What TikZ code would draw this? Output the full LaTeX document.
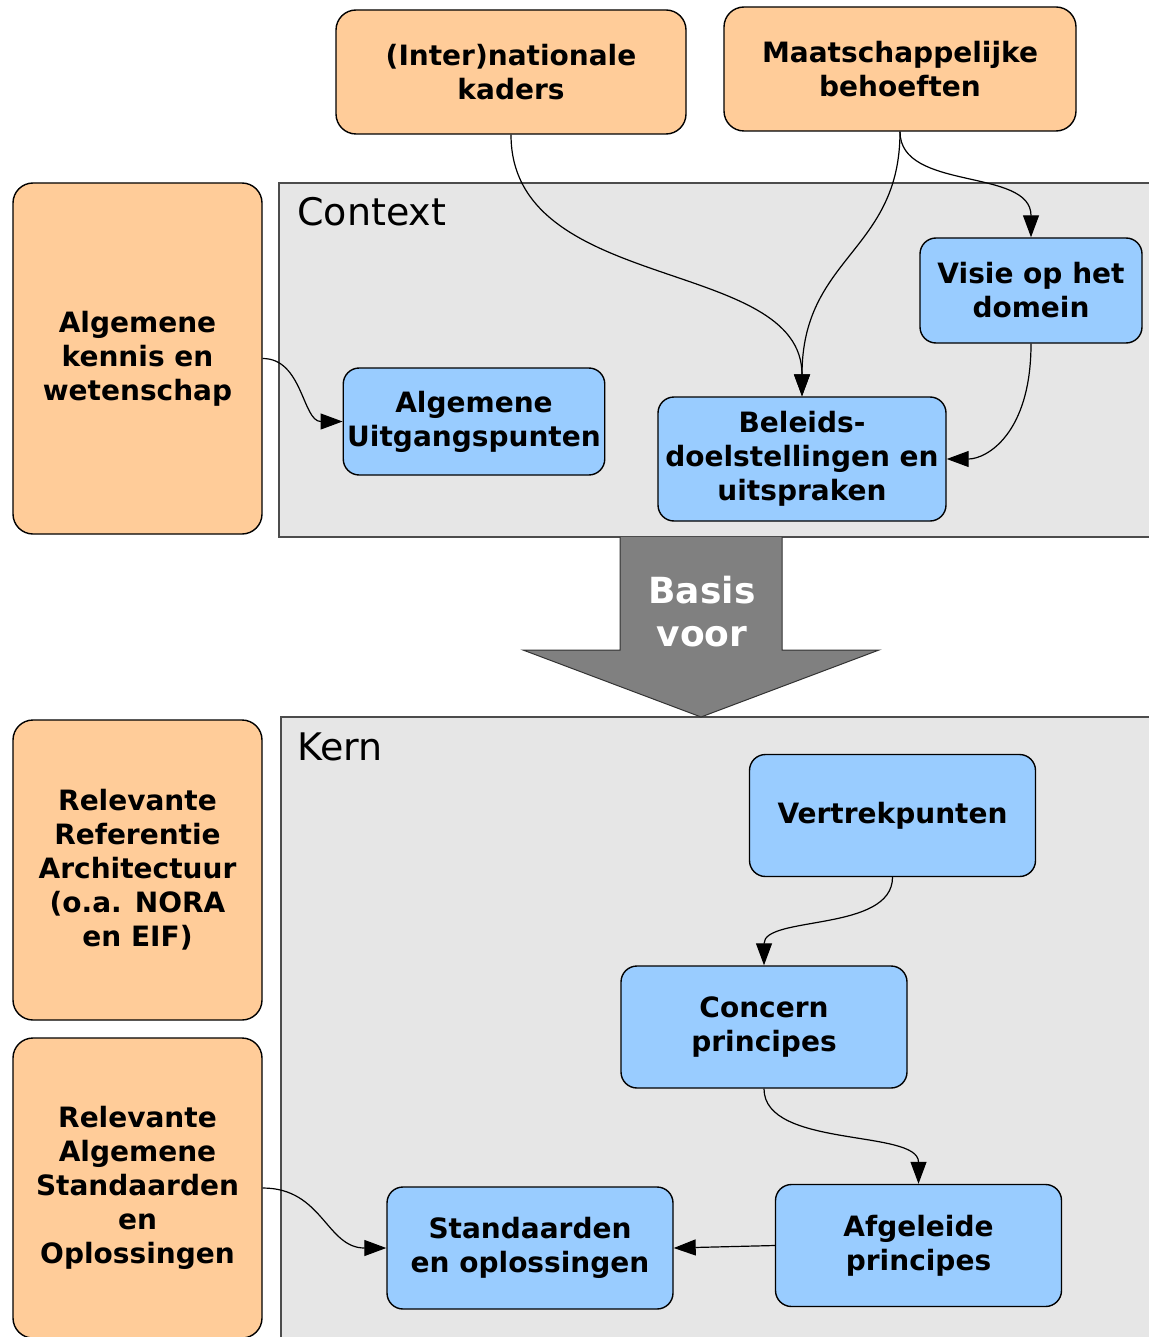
\documentclass[tikz,border=0pt]{standalone}
\usepackage{fontspec}
\setmainfont{DejaVu Sans}
\usetikzlibrary{arrows.meta}

\definecolor{peach}{HTML}{FFCC99}
\definecolor{skyblue}{HTML}{99CCFF}
\definecolor{panelgray}{HTML}{E6E6E6}
\definecolor{arrowgray}{HTML}{808080}

\begin{document}
\begin{tikzpicture}[
	x=0.5pt, y=-0.5pt,
	source/.style={
		draw, line width=0.7pt, rectangle, rounded corners=10pt, fill=peach,
		font=\bfseries\fontsize{14}{17}\selectfont, align=center, inner sep=2pt
	},
	block/.style={
		draw, line width=0.7pt, rectangle, rounded corners=8pt, fill=skyblue,
		font=\bfseries\fontsize{14}{17}\selectfont, align=center, inner sep=2pt,
		minimum width=143pt, minimum height=61pt
	},
	panel/.style={draw=black!70, line width=0.6pt, fill=panelgray},
	title/.style={font=\fontsize{19}{22}\selectfont, anchor=west, inner sep=0pt},
	arr/.style={-{Triangle[length=11pt, width=8pt]}, line width=0.6pt},
	]
	
	\useasboundingbox (0,0) rectangle (1149,1337);
	
	% the two areas
	\draw[panel] (279,183) rectangle (1175,537);
	\draw[panel] (281,717) rectangle (1175,1360);
	\node[title] (ctxtitle)  at (297,212) {Context};
	\node[title] (kerntitle) at (297,747) {Kern};
	
	\filldraw[fill=arrowgray, draw=black!80, line width=0.5pt]
	(620,537) -- (620,650) -- (523,650) -- (701,717) -- (879,650) -- (782,650) -- (782,537);
	\node[font=\bfseries\fontsize{18}{21.5}\selectfont, text=white, align=center] (basis) at (702,612) {Basis\\voor};
	
	\node[source, minimum width=175pt, minimum height=62pt]     (kaders)    at (511,72)      {(Inter)nationale\\kaders};
	\node[source, minimum width=176pt, minimum height=62pt]     (behoeften) at (900,69)      {Maatschappelijke\\behoeften};
	\node[source, minimum width=124.5pt, minimum height=175.5pt] (kennis)  at (137.5,358.5) {Algemene\\kennis en\\wetenschap};
	\node[source, minimum width=124.5pt, minimum height=150pt] (refarch)   at (137.5,870)   {Relevante\\Referentie\\Architectuur\\(o.a. NORA\\en EIF)};
	\node[source, minimum width=124.5pt, minimum height=150pt] (algstd)    at (137.5,1188)  {Relevante\\Algemene\\Standaarden\\en\\Oplossingen};
	
	\node[block, minimum width=128pt, minimum height=53.5pt] (uitgang) at (474,421.5)  {Algemene\\Uitgangspunten};
	\node[block, minimum width=144pt, minimum height=62pt]   (beleid)  at (802,459)    {Beleids-\\doelstellingen en\\uitspraken};
	\node[block, minimum width=111pt, minimum height=52.5pt] (visie)   at (1031,290.5) {Visie op het\\domein};
	
	\node[block] (vertrek)   at (892.5,815.5)  {Vertrekpunten};
	\node[block] (concern)   at (764,1027)     {Concern\\principes};
	\node[block] (afgeleid)  at (918.5,1245.5) {Afgeleide\\principes};
	\node[block] (standaard) at (530,1248)     {Standaarden\\en oplossingen};
	
	\draw[arr] (kaders.south) .. controls +(0,160) and +(0,-140) .. (beleid.north);
	\draw[arr] (behoeften.south) .. controls +(0,120) and +(0,-140) .. (beleid.north);
	\draw[arr] (behoeften.south) .. controls +(0,60) and +(0,-70) .. (visie.north);
	\draw[arr] (visie.south) .. controls +(0,90) and +(40,0) .. (beleid.east);
	\draw[arr] (kennis.east) .. controls +(40,0) and +(-40,0) .. (uitgang.west);
	
	\draw[arr] (vertrek.south) .. controls +(0,55) and +(0,-50) .. (concern.north);
	\draw[arr] (concern.south) .. controls +(0,60) and +(0,-55) .. (afgeleid.north);
	\draw[arr] (afgeleid.west) -- (standaard.east);
	\draw[arr] (algstd.east) .. controls +(60,0) and +(-60,0) .. (standaard.west);
	
\end{tikzpicture}
\end{document}
